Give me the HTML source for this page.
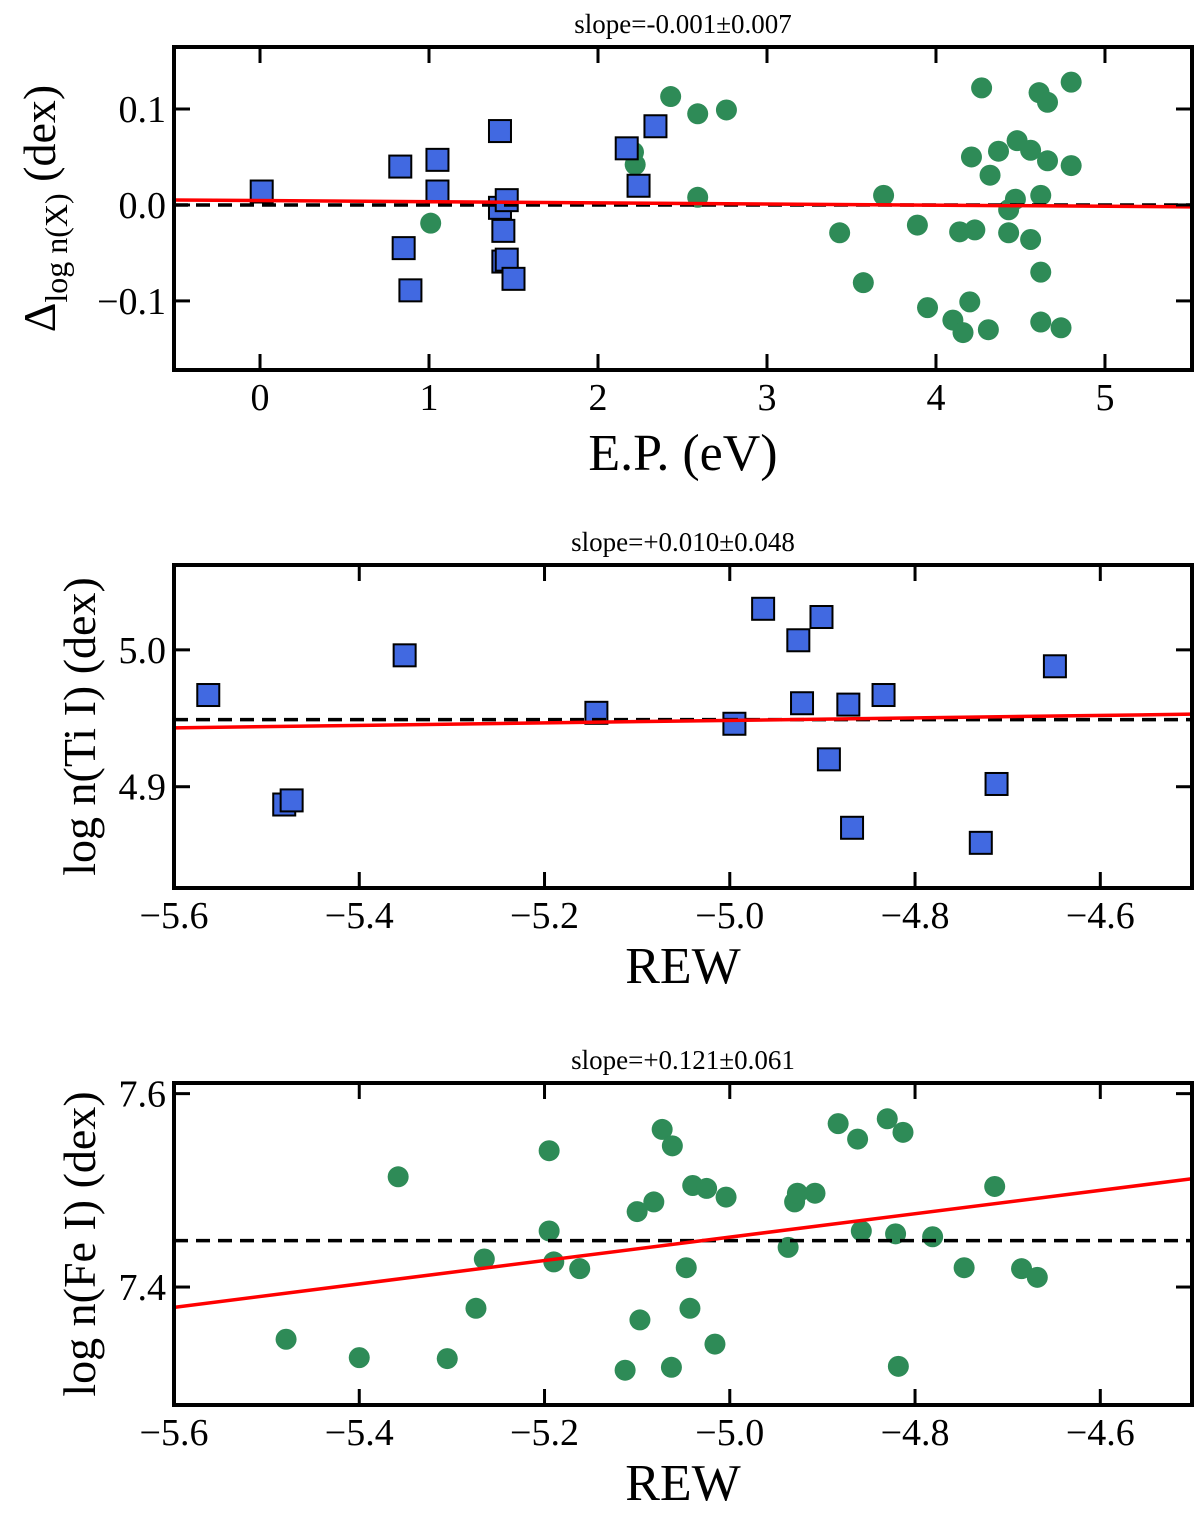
<!DOCTYPE html>
<html><head><meta charset="utf-8"><style>
body{margin:0;background:#fff}
svg text{font-family:"Liberation Serif","DejaVu Serif",serif;fill:#000}
</style></head><body>
<svg id="chart" width="1200" height="1512" xmlns="http://www.w3.org/2000/svg"></svg>
<script>
// Panel 1: E.P. vs Delta log n(X)
const p1BlueX=[0.01,0.83,0.85,0.89,1.05,1.05,1.42,1.42,1.46,1.44,1.44,1.46,1.50,2.17,2.24,2.34];
const p1BlueY=[0.014,0.04,-0.045,-0.089,0.047,0.014,0.077,-0.003,0.005,-0.027,-0.059,-0.057,-0.077,0.059,0.02,0.082];
const p1GreenX=[1.01,2.21,2.22,2.43,2.59,2.59,2.76,3.43,3.57,3.69,3.89,3.95,4.10,4.14,4.16,4.20,4.21,4.23,4.27,4.31,4.32,4.37,4.43,4.43,4.47,4.48,4.56,4.56,4.61,4.62,4.62,4.62,4.66,4.66,4.74,4.80,4.80];
const p1GreenY=[-0.019,0.055,0.042,0.113,0.095,0.008,0.099,-0.029,-0.081,0.010,-0.021,-0.107,-0.120,-0.028,-0.133,-0.101,0.05,-0.026,0.122,-0.130,0.031,0.056,-0.029,-0.005,0.006,0.067,0.057,-0.036,0.117,-0.07,0.010,-0.122,0.107,0.046,-0.128,0.128,0.041];
const p1XTicks=[0,1,2,3,4,5];
const p1YTicks=[-0.1,0.0,0.1];
const p1Fit=[0.0046,-0.0012]; // intercept, slope
const p1Ref=0.0;
// Panel 2: REW vs log n(Ti I)
const p2BlueX=[-5.563,-5.481,-5.473,-5.351,-5.144,-4.995,-4.964,-4.926,-4.922,-4.901,-4.893,-4.872,-4.868,-4.834,-4.729,-4.712,-4.649];
const p2BlueY=[4.967,4.887,4.890,4.996,4.954,4.946,5.030,5.007,4.961,5.024,4.920,4.960,4.870,4.967,4.859,4.902,4.988];
const p2XTicks=[-5.6,-5.4,-5.2,-5.0,-4.8,-4.6];
const p2YTicks=[4.9,5.0];
const p2Fit=[4.943,0.0091]; // value at x=-5.6, slope
const p2Ref=4.949;
// Panel 3: REW vs log n(Fe I)
const p3GreenX=[-5.479,-5.400,-5.358,-5.305,-5.274,-5.265,-5.195,-5.195,-5.190,-5.162,-5.113,-5.100,-5.097,-5.082,-5.073,-5.063,-5.062,-5.047,-5.043,-5.040,-5.025,-5.016,-5.004,-4.937,-4.930,-4.927,-4.908,-4.883,-4.862,-4.858,-4.830,-4.821,-4.818,-4.813,-4.781,-4.747,-4.714,-4.685,-4.668];
const p3GreenY=[7.346,7.327,7.514,7.326,7.378,7.429,7.541,7.458,7.426,7.419,7.314,7.478,7.366,7.488,7.563,7.317,7.546,7.420,7.378,7.505,7.502,7.341,7.493,7.441,7.488,7.497,7.497,7.569,7.553,7.458,7.574,7.455,7.318,7.560,7.452,7.420,7.504,7.419,7.410];
const p3XTicks=[-5.6,-5.4,-5.2,-5.0,-4.8,-4.6];
const p3YTicks=[7.4,7.6];
const p3Fit=[7.379,0.121];
const p3Ref=7.448;

const svg=document.getElementById('chart');
const NS='http://www.w3.org/2000/svg';
function mk(tag,attrs,parent){const e=document.createElementNS(NS,tag);for(const k in attrs)e.setAttribute(k,attrs[k]);(parent||svg).appendChild(e);return e;}
function fmt(v,d){let s=Math.abs(v).toFixed(d);return (v< -1e-9?'\u2212':'')+s;}

function panel(cfg){
  const g=mk('g',{});
  
  
  const L=174,R=1192,T=cfg.top,B=cfg.bottom;
  const sx=v=>L+(v-cfg.xmin)/(cfg.xmax-cfg.xmin)*(R-L);
  const sy=v=>B-(v-cfg.ymin)/(cfg.ymax-cfg.ymin)*(B-T);
  // title
  const t=mk('text',{x:683,y:T-14,'text-anchor':'middle','font-size':27},g);t.textContent=cfg.title;
  
  
  // points
  const clip='clip-'+cfg.name;
  const cp=mk('clipPath',{id:clip},g);mk('rect',{x:L,y:T,width:R-L,height:B-T},cp);
  const pg=mk('g',{'clip-path':'url(#'+clip+')'},g);
  (cfg.gx||[]).forEach((x,i)=>{
    const c=mk('circle',{cx:sx(x),cy:sy(cfg.gy[i]),r:10.5,fill:'#2e8b57'},pg);
    
    
  });
  (cfg.bx||[]).forEach((x,i)=>{
    const r=mk('rect',{x:sx(x)-11,y:sy(cfg.by[i])-11,width:22,height:22,fill:'#4169e1',stroke:'#000','stroke-width':2},pg);
    
    
  });
  // reference and fit lines
  const d=mk('line',{x1:L,x2:R,y1:sy(cfg.ref),y2:sy(cfg.ref),stroke:'#000','stroke-width':3.5,'stroke-dasharray':'14 8'},pg);
  
  
  const fy=x=>cfg.fit[0]+cfg.fit[1]*(x-cfg.fitX0);
  const f=mk('line',{x1:L,x2:R,y1:sy(fy(cfg.xmin)),y2:sy(fy(cfg.xmax)),stroke:'#ff0000','stroke-width':3.5},pg);
  
  
  // frame
  const fr=mk('rect',{x:L,y:T,width:R-L,height:B-T,fill:'none',stroke:'#000','stroke-width':4},g);
  
  
  // ticks
  cfg.xt.forEach(v=>{
    const x=sx(v);
    mk('line',{x1:x,x2:x,y1:B,y2:B-16,stroke:'#000','stroke-width':3},g);
    mk('line',{x1:x,x2:x,y1:T,y2:T+16,stroke:'#000','stroke-width':3},g);
    const tx=mk('text',{x:x,y:B+40,'text-anchor':'middle','font-size':38},g);
    tx.textContent=fmt(v,cfg.xd);
    
    
  });
  cfg.yt.forEach(v=>{
    const y=sy(v);
    mk('line',{x1:L,x2:L+16,y1:y,y2:y,stroke:'#000','stroke-width':3},g);
    mk('line',{x1:R,x2:R-16,y1:y,y2:y,stroke:'#000','stroke-width':3},g);
    const ty=mk('text',{x:L-8,y:y+13,'text-anchor':'end','font-size':38},g);
    ty.textContent=fmt(v,1);
    
    
  });
  const xl=mk('text',{x:683,y:cfg.xlabY,'text-anchor':'middle','font-size':52},g);
  xl.textContent=cfg.xlab;
  
  
  const yl=mk('text',{x:0,y:0,'text-anchor':'middle','font-size':cfg.ylabSize,transform:'translate('+cfg.ylabX+','+((T+B)/2)+') rotate(-90)'},g);
  
  
  if(cfg.ylabSub){
    const a=mk('tspan',{},yl);a.textContent='\u0394';
    const b=mk('tspan',{'font-size':32,dy:12},yl);b.textContent='log n(X)';
    const c=mk('tspan',{dy:-12},yl);c.textContent=' (dex)';
  } else yl.textContent=cfg.ylab;
}

panel({name:'ep-panel',top:47,bottom:370,xmin:-0.509,xmax:5.515,ymin:-0.172,ymax:0.1646,
  title:'slope=-0.001\u00b10.007',bx:p1BlueX,by:p1BlueY,gx:p1GreenX,gy:p1GreenY,
  xt:p1XTicks,yt:p1YTicks,xd:0,fit:p1Fit,fitX0:0,ref:p1Ref,xlab:'E.P. (eV)',xlabY:470,ylabSub:true,ylabX:55,ylabSize:46});
panel({name:'ti-panel',top:565,bottom:888,xmin:-5.6,xmax:-4.501,ymin:4.826,ymax:5.062,
  title:'slope=+0.010\u00b10.048',bx:p2BlueX,by:p2BlueY,
  xt:p2XTicks,yt:p2YTicks,xd:1,fit:p2Fit,fitX0:-5.6,ref:p2Ref,xlab:'REW',xlabY:983,ylab:'log n(Ti I) (dex)',ylabX:95,ylabSize:46});
panel({name:'fe-panel',top:1083,bottom:1405,xmin:-5.6,xmax:-4.501,ymin:7.278,ymax:7.611,
  title:'slope=+0.121\u00b10.061',gx:p3GreenX,gy:p3GreenY,
  xt:p3XTicks,yt:p3YTicks,xd:1,fit:p3Fit,fitX0:-5.6,ref:p3Ref,xlab:'REW',xlabY:1500,ylab:'log n(Fe I) (dex)',ylabX:95,ylabSize:46});
</script>
</body></html>
